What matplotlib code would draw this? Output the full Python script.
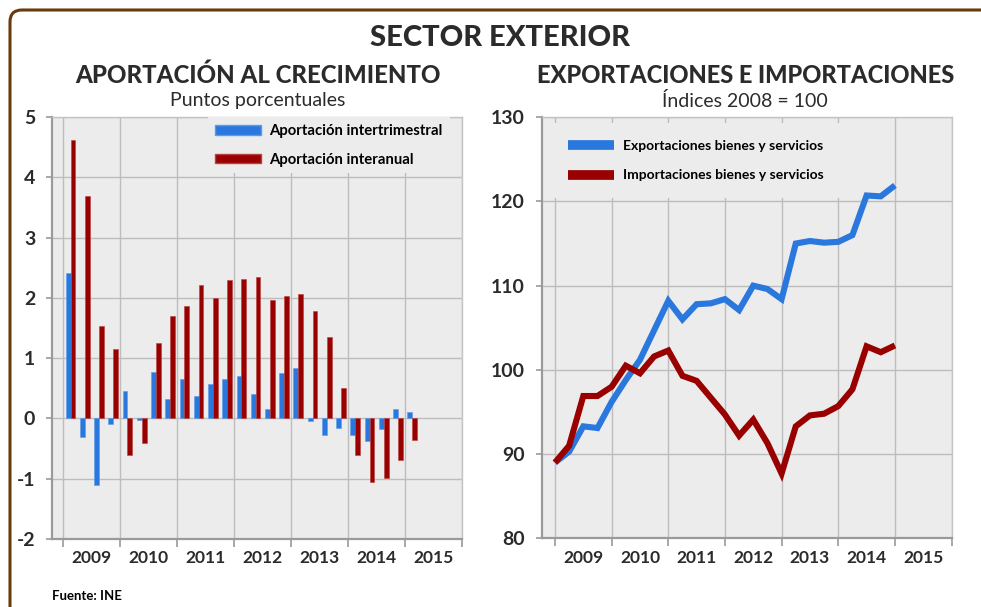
import numpy as np
import matplotlib
matplotlib.use('Agg')
import matplotlib.pyplot as plt
from matplotlib.patches import Patch, FancyBboxPatch
from matplotlib.lines import Line2D

plt.rcParams['font.family'] = ['Lato', 'DejaVu Sans']
plt.rcParams['axes.unicode_minus'] = False

# Data (quarters 2009Q1 .. 2015Q1)
years = ['2009', '2010', '2011', '2012', '2013', '2014', '2015']
intertrimestral = [2.41, -0.31, -1.10, -0.09, 0.46, -0.02, 0.77, 0.33, 0.66, 0.37,
                   0.57, 0.66, 0.71, 0.41, 0.15, 0.76, 0.83, -0.04, -0.27, -0.15,
                   -0.27, -0.37, -0.17, 0.16, 0.10]
interanual = [4.62, 3.69, 1.54, 1.16, -0.60, -0.41, 1.26, 1.70, 1.87, 2.21,
              2.00, 2.29, 2.31, 2.34, 1.96, 2.04, 2.07, 1.79, 1.35, 0.50,
              -0.60, -1.05, -0.99, -0.69, -0.35]
exportaciones = [89.0, 90.3, 93.3, 93.1, 96.2, 98.8, 101.2, 104.7, 108.2, 106.0,
                 107.8, 107.9, 108.4, 107.1, 110.0, 109.6, 108.4, 115.0, 115.3, 115.1,
                 115.2, 116.0, 120.7, 120.6, 121.9]
importaciones = [89.0, 91.0, 96.9, 96.9, 98.0, 100.5, 99.6, 101.6, 102.3, 99.3,
                 98.7, 96.7, 94.7, 92.2, 94.1, 91.3, 87.7, 93.3, 94.6, 94.8,
                 95.7, 97.7, 102.8, 102.1, 102.9]

BLUE = '#2a78de'
RED = '#990000'
TXT = '#2b2b2b'
BG = '#ececec'
GRID = '#bdbdbd'

fig = plt.figure(figsize=(9.81, 6.07), dpi=100)
fig.patch.set_facecolor('white')

# brown frame, rounded corner top-left (right and bottom run off the page)
frame = FancyBboxPatch((0.1, -0.5), 11.5, 6.47, boxstyle='round,pad=0,rounding_size=0.12',
                       transform=fig.dpi_scale_trans, fill=False, edgecolor='#6b3a0c',
                       linewidth=2.2)
fig.patches.append(frame)

fig.text(0.51, 0.937, 'SECTOR EXTERIOR', ha='center', va='center', fontsize=21,
         fontweight='black', color=TXT)
fig.text(0.263, 0.876, 'APORTACIÓN AL CRECIMIENTO', ha='center', va='center', fontsize=17.3,
         fontweight='black', color=TXT)
fig.text(0.263, 0.834, 'Puntos porcentuales', ha='center', va='center', fontsize=14,
         color=TXT)
fig.text(0.76, 0.876, 'EXPORTACIONES E IMPORTACIONES', ha='center', va='center', fontsize=17,
         fontweight='black', color=TXT)
fig.text(0.759, 0.834, 'Índices 2008 = 100', ha='center', va='center', fontsize=14,
         color=TXT)
fig.text(0.053, 0.018, 'Fuente: INE', ha='left', va='center', fontsize=9.5,
         fontweight='bold', color='black')


def style_axes(ax, xmin, xmax):
    ax.set_facecolor(BG)
    ax.set_xlim(xmin, xmax)
    ax.set_xticks(np.arange(0, 29, 4))
    ax.set_xticklabels([])
    ax.set_xticks(np.arange(2, 27, 4), minor=True)
    ax.set_xticklabels(years, minor=True)
    ax.tick_params(axis='x', which='major', length=6, color='#9a9a9a', width=1.2)
    ax.tick_params(axis='x', which='minor', length=0, pad=8, labelsize=12.5,
                   labelcolor=TXT)
    ax.tick_params(axis='y', length=4, color='#9a9a9a', width=1.2, pad=8,
                   labelsize=14, labelcolor=TXT)
    for lab in ax.get_xticklabels(minor=True) + ax.get_yticklabels():
        lab.set_fontweight('bold')
    ax.grid(True, which='major', color=GRID, linewidth=1.0)
    ax.set_axisbelow(True)
    for s in ['left', 'bottom']:
        ax.spines[s].set_color('#9a9a9a')
        ax.spines[s].set_linewidth(1.6)
    for s in ['top', 'right']:
        ax.spines[s].set_color('#c4c4c4')
        ax.spines[s].set_linewidth(1.0)


# Left chart: contributions
ax1 = fig.add_axes([0.053, 0.112, 0.418, 0.695])
q = np.arange(len(intertrimestral)) + 0.5
w = 0.34
ax1.bar(q - w / 2, intertrimestral, width=w, color=BLUE, edgecolor='#5b9be8',
        linewidth=0.4, label='Aportación intertrimestral', zorder=3)
ax1.bar(q + w / 2, interanual, width=w, color=RED, edgecolor='#b84040',
        linewidth=0.4, label='Aportación interanual', zorder=3)
ax1.set_ylim(-2, 5)
ax1.set_yticks(range(-2, 6))
style_axes(ax1, -0.8, 27.9)
leg1 = ax1.legend(handles=[Patch(facecolor=BLUE, edgecolor='#5b9be8', label='Aportación intertrimestral'),
                           Patch(facecolor=RED, edgecolor='#b84040', label='Aportación interanual')],
                  loc='upper left', bbox_to_anchor=(0.38, 1.0), borderaxespad=0,
                  fontsize=10.7, handlelength=3.1, handleheight=0.65, handletextpad=0.6,
                  labelspacing=1.0, borderpad=0.45, facecolor=BG, edgecolor='none',
                  framealpha=1, fancybox=False)
leg1.set_zorder(5)
for t in leg1.get_texts():
    t.set_fontweight('bold')
    t.set_color('black')

# Right chart: indices
ax2 = fig.add_axes([0.552, 0.113, 0.418, 0.694])
xq = np.arange(len(exportaciones))
ax2.plot(xq, exportaciones, color=BLUE, linewidth=4.4, solid_joinstyle='miter',
         solid_capstyle='butt', zorder=3)
ax2.plot(xq, importaciones, color=RED, linewidth=4.4, solid_joinstyle='miter',
         solid_capstyle='butt', zorder=3)
ax2.set_ylim(80, 130)
ax2.set_yticks(range(80, 131, 10))
style_axes(ax2, -0.95, 27.6)
leg2 = ax2.legend(handles=[Line2D([], [], color=BLUE, linewidth=7, solid_capstyle='butt',
                                  label='Exportaciones bienes y servicios'),
                           Line2D([], [], color=RED, linewidth=7, solid_capstyle='butt',
                                  label='Importaciones bienes y servicios')],
                  loc='upper left', bbox_to_anchor=(0.025, 0.985), borderaxespad=0,
                  fontsize=10, handlelength=3.3, handletextpad=0.65,
                  labelspacing=1.25, borderpad=1.2, facecolor=BG, edgecolor='none',
                  framealpha=1, fancybox=False)
leg2.set_zorder(5)
for t in leg2.get_texts():
    t.set_fontweight('bold')
    t.set_color('black')

fig.savefig('out.png', dpi=100, facecolor='white')
